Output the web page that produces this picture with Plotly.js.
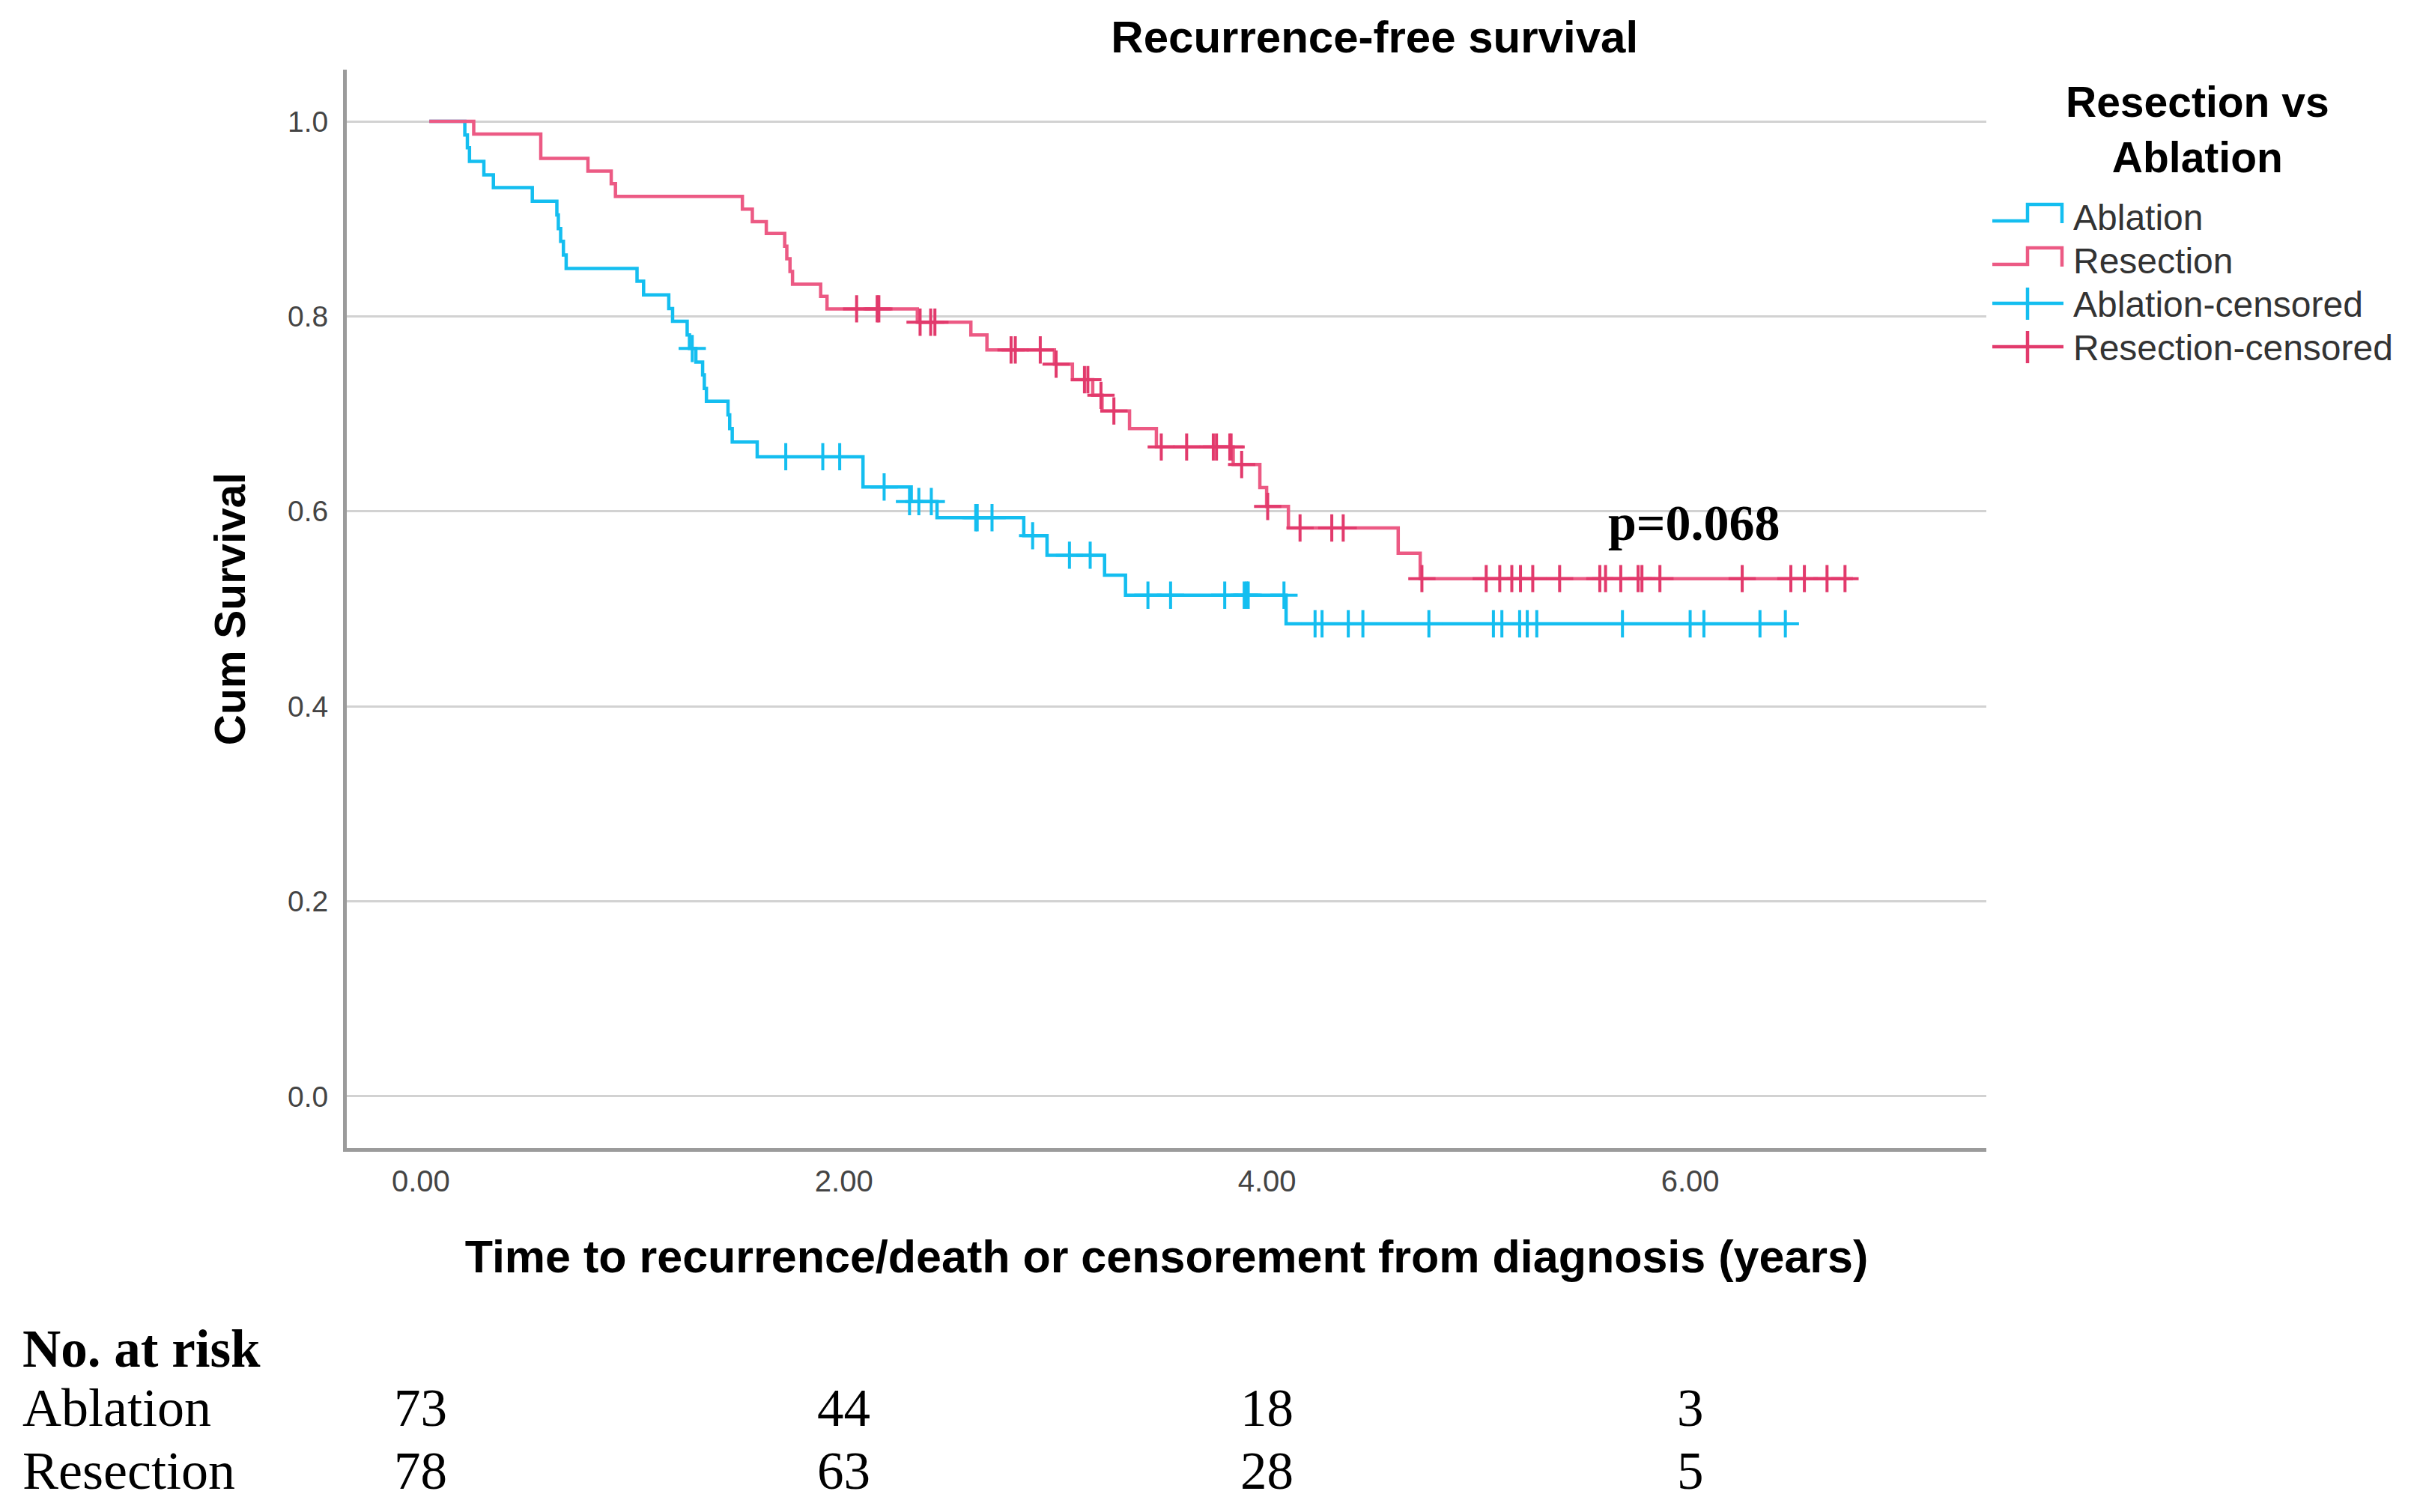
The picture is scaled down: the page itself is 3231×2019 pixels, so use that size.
<!DOCTYPE html>
<html>
<head>
<meta charset="utf-8">
<script src="https://cdn.plot.ly/plotly-3.0.1.min.js"></script>
<style>html,body{margin:0;padding:0;background:#fff;}#chart{width:3231px;height:2019px;}</style>
</head>
<body>
<div id="chart"></div>
<script>
// ---- Data ----
// Kaplan-Meier step points: time (years) and cumulative survival after each step
const ablationTime = [0.04, 0.208, 0.22, 0.23, 0.298, 0.343, 0.527, 0.643, 0.650, 0.661, 0.674, 0.687, 1.022, 1.053, 1.172, 1.19, 1.259, 1.27, 1.30, 1.332, 1.34, 1.35, 1.452, 1.46, 1.472, 1.59, 2.09, 2.318, 2.44, 2.85, 2.96, 3.232, 3.331, 4.09, 6.46];
const ablationSurv = [1.0, 0.986, 0.973, 0.959, 0.945, 0.932, 0.918, 0.904, 0.890, 0.877, 0.863, 0.849, 0.836, 0.822, 0.808, 0.795, 0.781, 0.767, 0.753, 0.740, 0.726, 0.713, 0.699, 0.685, 0.671, 0.656, 0.625, 0.610, 0.5935, 0.575, 0.555, 0.5345, 0.514, 0.4846, 0.4846];
const ablationCensorTime = [1.283, 1.725, 1.90, 1.98, 2.19, 2.31, 2.354, 2.413, 2.623, 2.63, 2.70, 2.892, 3.066, 3.164, 3.437, 3.544, 3.80, 3.892, 3.903, 3.911, 4.08, 4.227, 4.26, 4.384, 4.453, 4.765, 5.07, 5.11, 5.194, 5.23, 5.275, 5.68, 6.0, 6.065, 6.33, 6.45];
const ablationCensorSurv = [0.767, 0.656, 0.656, 0.656, 0.625, 0.610, 0.610, 0.610, 0.5935, 0.5935, 0.5935, 0.575, 0.555, 0.555, 0.514, 0.514, 0.514, 0.514, 0.514, 0.514, 0.514, 0.4846, 0.4846, 0.4846, 0.4846, 0.4846, 0.4846, 0.4846, 0.4846, 0.4846, 0.4846, 0.4846, 0.4846, 0.4846, 0.4846, 0.4846];

const resectionTime = [0.04, 0.25, 0.567, 0.79, 0.90, 0.92, 1.52, 1.567, 1.633, 1.72, 1.73, 1.745, 1.757, 1.89, 1.92, 2.347, 2.60, 2.676, 2.995, 3.08, 3.176, 3.22, 3.35, 3.477, 3.84, 3.966, 3.998, 4.101, 4.62, 4.724, 6.77];
const resectionSurv = [1.0, 0.987, 0.962, 0.949, 0.936, 0.923, 0.910, 0.897, 0.885, 0.872, 0.859, 0.846, 0.833, 0.8205, 0.8077, 0.794, 0.781, 0.7655, 0.751, 0.735, 0.719, 0.703, 0.685, 0.666, 0.648, 0.6245, 0.605, 0.583, 0.557, 0.531, 0.531];
const resectionCensorTime = [2.06, 2.157, 2.165, 2.36, 2.41, 2.43, 2.79, 2.81, 2.928, 3.003, 3.137, 3.153, 3.215, 3.276, 3.50, 3.62, 3.746, 3.761, 3.824, 3.83, 3.88, 4.003, 4.156, 4.306, 4.36, 4.732, 5.036, 5.10, 5.157, 5.198, 5.256, 5.383, 5.573, 5.60, 5.672, 5.754, 5.772, 5.857, 6.246, 6.476, 6.54, 6.647, 6.732];
const resectionCensorSurv = [0.8077, 0.8077, 0.8077, 0.794, 0.794, 0.794, 0.7655, 0.7655, 0.7655, 0.751, 0.735, 0.735, 0.719, 0.703, 0.666, 0.666, 0.666, 0.666, 0.666, 0.666, 0.648, 0.605, 0.583, 0.583, 0.583, 0.531, 0.531, 0.531, 0.531, 0.531, 0.531, 0.531, 0.531, 0.531, 0.531, 0.531, 0.531, 0.531, 0.531, 0.531, 0.531, 0.531, 0.531];

// Number at risk table
const riskTimes = [0, 2, 4, 6];
const riskAblation = [73, 44, 18, 3];
const riskResection = [78, 63, 28, 5];
const pValueText = 'p=0.068';
const legendTitle = 'Resection vs<br>Ablation';
const legendNames = ['Ablation', 'Resection', 'Ablation-censored', 'Resection-censored'];

// ---- Styles ----
const BLUE = '#14BEF0';
const RED = '#EC5A84';
const RED_C = '#E23A6C';
const SANS = 'Liberation Sans, Arial, sans-serif';
const SERIF = 'Liberation Serif, Times New Roman, serif';

const traces = [
  {x: ablationTime, y: ablationSurv, name: legendNames[0], type: 'scatter', mode: 'lines',
   line: {shape: 'hv', color: BLUE, width: 4.5}},
  {x: resectionTime, y: resectionSurv, name: legendNames[1], type: 'scatter', mode: 'lines',
   line: {shape: 'hv', color: RED, width: 4.5}},
  {x: ablationCensorTime, y: ablationCensorSurv, name: legendNames[2], type: 'scatter', mode: 'markers',
   marker: {symbol: 'cross-thin', size: 26, color: BLUE, line: {color: BLUE, width: 4}}},
  {x: resectionCensorTime, y: resectionCensorSurv, name: legendNames[3], type: 'scatter', mode: 'markers',
   marker: {symbol: 'cross-thin', size: 26, color: RED_C, line: {color: RED_C, width: 4}}}
];

// page-pixel -> paper helpers (plot area: x 463..2652, y 93..1533)
const PL = 463, PW = 2189, PB = 1533, PH = 1440;
const px = X => (X - PL) / PW;
const py = Y => (PB - Y) / PH;

const annotations = [];
const shapes = [];

// legend title (one text, two lines)
annotations.push({text: legendTitle, xref: 'paper', yref: 'paper', x: px(2934), y: py(173), align: 'center',
  xanchor: 'center', yanchor: 'middle', showarrow: false, font: {family: SANS, size: 57, weight: 'bold', color: '#000'}});

// legend entries (drawn as shapes + text)
const legendRows = [289, 347, 405, 463];
const legendColors = [BLUE, RED, BLUE, RED_C];
legendRows.forEach((Y, i) => {
  const c = legendColors[i];
  if (i < 2) {
    const lo = Y + 6, hi = Y - 16, end = Y + 9;
    shapes.push({type: 'path', xref: 'paper', yref: 'paper',
      path: `M ${px(2660)} ${py(lo)} L ${px(2707)} ${py(lo)} L ${px(2707)} ${py(hi)} L ${px(2753)} ${py(hi)} L ${px(2753)} ${py(end)}`,
      line: {color: c, width: 4.5}});
  } else {
    shapes.push({type: 'line', xref: 'paper', yref: 'paper', x0: px(2660), x1: px(2755), y0: py(Y), y1: py(Y),
      line: {color: c, width: 4.5}});
    shapes.push({type: 'line', xref: 'paper', yref: 'paper', x0: px(2707), x1: px(2707), y0: py(Y - 21), y1: py(Y + 22),
      line: {color: c, width: 4.5}});
  }
  annotations.push({text: legendNames[i], xref: 'paper', yref: 'paper', x: px(2766), y: py(Y + 1),
    xanchor: 'left', yanchor: 'middle', showarrow: false, height: 52,
    font: {family: SANS, size: 48, color: '#333'}});
});

annotations.push({text: pValueText, xref: 'x', yref: 'y', x: 6.02, y: 0.588,
  xanchor: 'center', yanchor: 'middle', showarrow: false, font: {family: SERIF, size: 68, weight: 'bold', color: '#000'}});
annotations.push({text: 'No. at risk', xref: 'paper', yref: 'paper', x: px(28), y: -0.186,
  xanchor: 'left', yanchor: 'middle', showarrow: false, font: {family: SERIF, size: 71, weight: 'bold', color: '#000'}});
annotations.push({text: 'Ablation', xref: 'paper', yref: 'paper', x: px(28), y: -0.241,
  xanchor: 'left', yanchor: 'middle', showarrow: false, font: {family: SERIF, size: 72, color: '#000'}});
annotations.push({text: 'Resection', xref: 'paper', yref: 'paper', x: px(28), y: -0.299,
  xanchor: 'left', yanchor: 'middle', showarrow: false, font: {family: SERIF, size: 72, color: '#000'}});
riskTimes.forEach((t, i) => {
  annotations.push({text: String(riskAblation[i]), xref: 'x', yref: 'paper', x: t, y: -0.241,
    xanchor: 'center', yanchor: 'middle', showarrow: false, font: {family: SERIF, size: 71, color: '#000'}});
  annotations.push({text: String(riskResection[i]), xref: 'x', yref: 'paper', x: t, y: -0.299,
    xanchor: 'center', yanchor: 'middle', showarrow: false, font: {family: SERIF, size: 71, color: '#000'}});
});

const layout = {
  width: 3231, height: 2019,
  margin: {l: 463, r: 579, t: 93, b: 486},
  paper_bgcolor: '#fff', plot_bgcolor: '#fff',
  title: {text: 'Recurrence-free survival', x: 0.568, xref: 'container', xanchor: 'center',
    y: 0.9757, yref: 'container', yanchor: 'middle',
    font: {family: SANS, size: 60, weight: 'bold', color: '#000'}},
  xaxis: {range: [-0.35, 7.40], tick0: 0, dtick: 2, tickformat: '.2f', showgrid: false, zeroline: false,
    showline: true, linecolor: '#9b9b9b', linewidth: 5, ticks: '', automargin: false,
    ticklabelstandoff: 5,
    tickfont: {family: SANS, size: 40, color: '#444'},
    title: {text: 'Time to recurrence/death or censorement from diagnosis (years)', standoff: 60,
      font: {family: SANS, size: 61, weight: 'bold', color: '#000'}}},
  yaxis: {range: [-0.053, 1.053], tick0: 0, dtick: 0.2, tickformat: '.1f', showgrid: true,
    gridcolor: '#d2d2d2', gridwidth: 3, zeroline: false,
    showline: true, linecolor: '#9b9b9b', linewidth: 5, ticks: '', automargin: false,
    ticklabelstandoff: 12,
    tickfont: {family: SANS, size: 39, color: '#444'},
    title: {text: 'Cum Survival', standoff: 40,
      font: {family: SANS, size: 57, weight: 'bold', color: '#000'}}},
  showlegend: false,
  shapes: shapes,
  annotations: annotations
};

Plotly.newPlot('chart', traces, layout, {displayModeBar: false, staticPlot: true});
</script>
</body>
</html>
